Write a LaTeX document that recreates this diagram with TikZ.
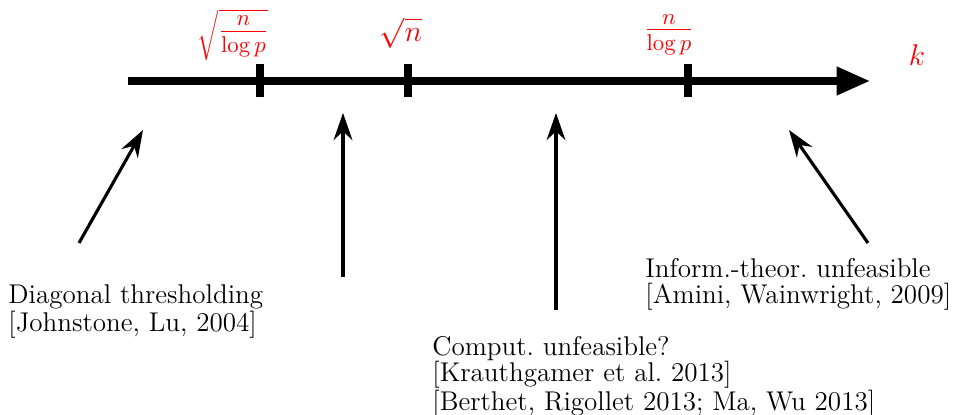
\documentclass[tikz,border=0pt]{standalone}
\usetikzlibrary{arrows.meta}
\tikzset{
  lbl/.style={red, font=\Large, inner sep=1pt},
  fraclbl/.style={lbl, font=\fontsize{16}{18}\selectfont},
  ref/.style={anchor=north west, align=left, inner sep=0pt, font=\fontsize{13}{12.4}\selectfont},
  pointer/.style={-{Stealth[length=13pt, width=9pt]}, line width=1.5pt}
}
\begin{document}
\begin{tikzpicture}[x=0.48pt, y=-0.48pt]
    \useasboundingbox (0,0) rectangle (953,415);

    % Axis for k
    \coordinate (a0) at (128,81);
    \coordinate (a1) at (870,81);
    \draw[line width=3.4pt, -{Triangle[length=16pt, width=13pt]}] (a0) -- (a1);
    \node[lbl] (k) at (917,55) {$k$};

    % Ticks
    \foreach \x/\n in {260/t1, 408/t2, 688/t3} {
        \draw[line width=3.4pt] (\x,64) -- (\x,97) coordinate (\n);
    }

    % Threshold labels
    \node[fraclbl] (l1) at (233,35) {$\sqrt{\frac{n}{\log p}}$};
    \node[lbl] (l2) at (401,33) {$\sqrt{n}$};
    \node[fraclbl] (l3) at (669,35) {$\frac{n}{\log p}$};

    % Regimes
    \node[ref] (r1) at (8,284) {Diagonal thresholding\\{[}Johnstone, Lu, 2004{]}};
    \node[ref] (r3) at (432,336) {Comput.\ unfeasible?\\{[}Krauthgamer et al.\ 2013{]}\\{[}Berthet, Rigollet 2013; Ma, Wu 2013{]}};
    \node[ref] (r4) at (645,258) {Inform.-theor.\ unfeasible\\{[}Amini, Wainwright, 2009{]}};

    % Pointers
    \coordinate (p1s) at (79,243);   \coordinate (p1e) at (143,130);
    \coordinate (p2s) at (343,277);  \coordinate (p2e) at (343,113);
    \coordinate (p3s) at (556,310);  \coordinate (p3e) at (556,113);
    \coordinate (p4s) at (868,243);  \coordinate (p4e) at (789,130);
    \draw[pointer] (p1s) -- (p1e);
    \draw[pointer] (p2s) -- (p2e);
    \draw[pointer] (p3s) -- (p3e);
    \draw[pointer] (p4s) -- (p4e);
\end{tikzpicture}
\end{document}
